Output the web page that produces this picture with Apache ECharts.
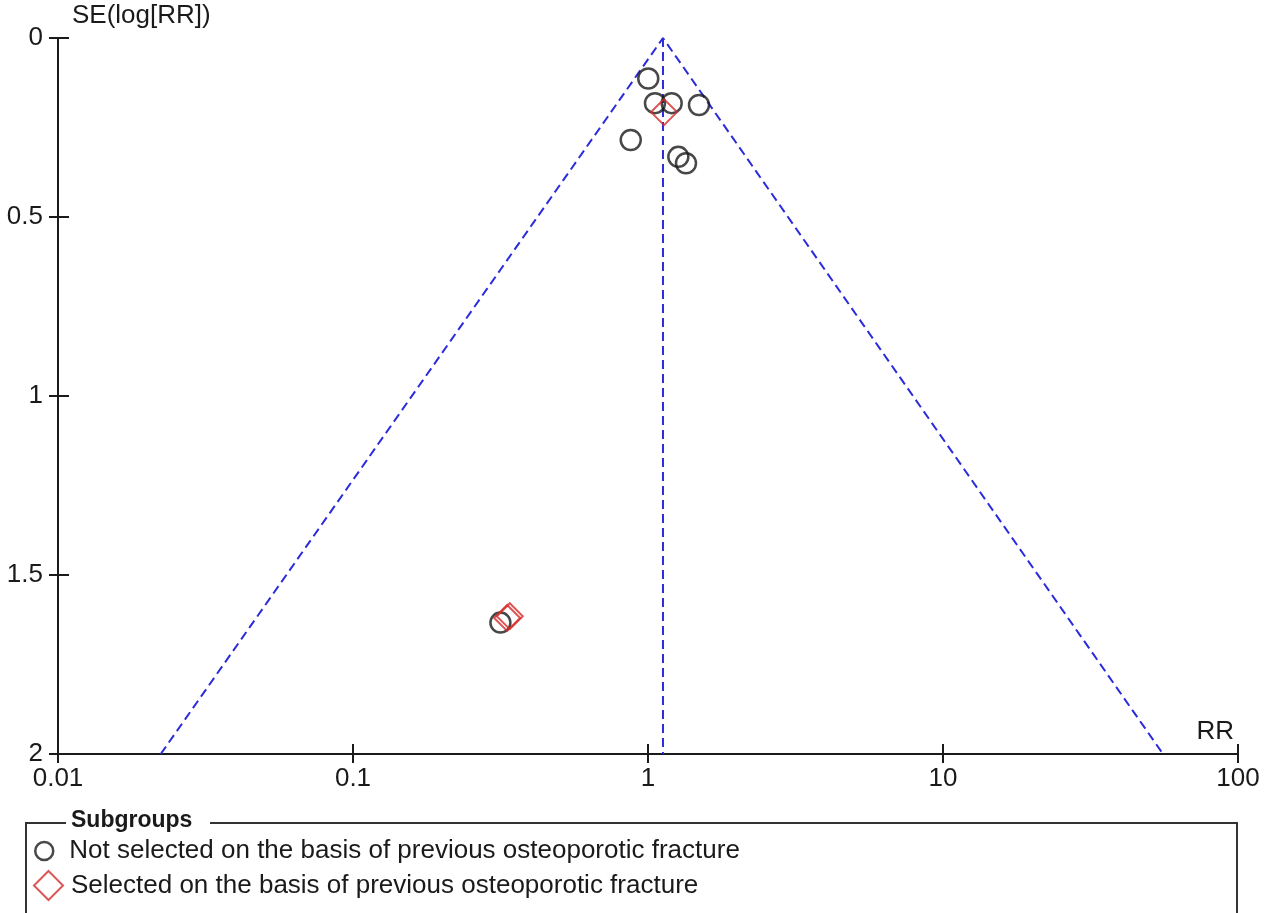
<!DOCTYPE html>
<html>
<head>
<meta charset="utf-8">
<title>Funnel plot</title>
<script src="https://cdn.jsdelivr.net/npm/echarts@6/dist/echarts.min.js"></script>
<style>
  html, body { margin: 0; padding: 0; background: #ffffff; }
  #chart { width: 1272px; height: 913px; }
</style>
</head>
<body>
<div id="chart"></div>
<script>
// Study estimates: [RR, SE(log RR)]
const notSelected = [
  [1.002, 0.113],
  [1.056, 0.182],
  [1.203, 0.182],
  [1.489, 0.187],
  [0.874, 0.285],
  [1.267, 0.332],
  [1.345, 0.350],
  [0.316, 1.633]
];
const selected = [
  [1.133, 0.207],
  [0.333, 1.620],
  [0.340, 1.615]
];

// Pooled estimate and 95% pseudo-confidence limits at SE = 2
const pooledRR = 1.124;
const lowerLimitAtMaxSE = 0.0223;
const upperLimitAtMaxSE = 55.7;
const maxSE = 2;

const xTickLabels = ['0.01', '0.1', '1', '10', '100'];
const yTickLabels = ['0', '0.5', '1', '1.5', '2'];

const seriesNames = [
  'Not selected on the basis of previous osteoporotic fracture',
  'Selected on the basis of previous osteoporotic fracture'
];

const FONT = '"Liberation Sans", Arial, sans-serif';
const FS = 26;
const INK = '#1a1a1a';
const FUNNEL = '#2b2bdc';
const RED = '#d42a2a';

const chart = echarts.init(document.getElementById('chart'), null, { renderer: 'canvas' });

const xLabel = v => xTickLabels[Math.round(Math.log10(v)) + 2] ?? '';
const yLabel = v => yTickLabels[Math.round(v / 0.5)] ?? '';

const funnelStyle = { color: FUNNEL, width: 2, type: [9, 5] };

// Each axis is drawn twice (outer and inner tick halves) so the ticks cross the axis line.
const xBase = { type: 'log', logBase: 10, min: 0.01, max: 100, position: 'bottom', splitLine: { show: false } };
const yBase = { type: 'value', inverse: true, min: 0, max: maxSE, interval: 0.5, position: 'left', splitLine: { show: false } };

chart.setOption({
  animation: false,
  backgroundColor: '#ffffff',
  grid: { left: 58, right: 34, top: 38, bottom: 159, containLabel: false },
  xAxis: [
    Object.assign({}, xBase, {
      axisLine: { show: true, onZero: false, lineStyle: { color: INK, width: 2 } },
      axisTick: { show: true, inside: false, length: 9, lineStyle: { color: INK, width: 2 } },
      axisLabel: { show: true, margin: 12, color: INK, fontFamily: FONT, fontSize: FS, formatter: xLabel },
      minorTick: { show: false }
    }),
    Object.assign({}, xBase, {
      axisLine: { show: true, onZero: false, lineStyle: { color: INK, width: 2 } },
      axisTick: { show: true, inside: true, length: 10, lineStyle: { color: INK, width: 2 } },
      axisLabel: { show: false }
    })
  ],
  yAxis: [
    Object.assign({}, yBase, {
      axisLine: { show: true, onZero: false, lineStyle: { color: INK, width: 2 } },
      axisTick: { show: true, inside: false, length: 9, lineStyle: { color: INK, width: 2 } },
      axisLabel: { show: true, margin: 15, color: INK, fontFamily: FONT, fontSize: FS, formatter: yLabel }
    }),
    Object.assign({}, yBase, {
      axisLine: { show: true, onZero: false, lineStyle: { color: INK, width: 2 } },
      axisTick: { show: true, inside: true, length: 11, lineStyle: { color: INK, width: 2 } },
      axisLabel: { show: false }
    })
  ],
  legend: [
    {
      data: [{ name: seriesNames[0], icon: 'circle', itemStyle: { color: '#ffffff', borderColor: INK, borderWidth: 2.5 } }],
      orient: 'vertical', left: 34, top: 838, padding: 0,
      itemWidth: 18, itemHeight: 18,
      selectedMode: false,
      textStyle: { color: INK, fontFamily: FONT, fontSize: FS, padding: [0, 0, 0, 11] }
    },
    {
      data: [{ name: seriesNames[1], icon: 'diamond', itemStyle: { color: '#ffffff', borderColor: RED, borderWidth: 2 } }],
      orient: 'vertical', left: 33, top: 870, padding: 0,
      itemWidth: 29, itemHeight: 29,
      selectedMode: false,
      textStyle: { color: INK, fontFamily: FONT, fontSize: FS, padding: [0, 0, 0, 3] }
    }
  ],
  graphic: [
    // axis titles
    { type: 'text', left: 72, top: 3, style: { text: 'SE(log[RR])', font: FS + 'px ' + FONT, fill: INK } },
    { type: 'text', right: 1272 - 1234, top: 719, style: { text: 'RR', font: FS + 'px ' + FONT, fill: INK } },
    // legend frame with title gap
    { type: 'polyline', shape: { points: [[66, 823], [26, 823], [26, 920]] }, style: { stroke: '#333333', lineWidth: 2, fill: 'none' } },
    { type: 'polyline', shape: { points: [[210, 823], [1237, 823], [1237, 920]] }, style: { stroke: '#333333', lineWidth: 2, fill: 'none' } },
    { type: 'text', left: 71, top: 809, style: { text: 'Subgroups', font: 'bold 23px ' + FONT, fill: INK } }
  ],
  series: [
    {
      name: 'funnel',
      type: 'line',
      xAxisIndex: 1, yAxisIndex: 1,
      data: [[lowerLimitAtMaxSE, maxSE], [pooledRR, 0], [upperLimitAtMaxSE, maxSE]],
      symbol: 'none', silent: true, z: 1,
      lineStyle: funnelStyle
    },
    {
      name: 'pooled',
      type: 'line',
      xAxisIndex: 1, yAxisIndex: 1,
      data: [[pooledRR, 0], [pooledRR, maxSE]],
      symbol: 'none', silent: true, z: 1,
      lineStyle: funnelStyle
    },
    {
      name: seriesNames[0],
      type: 'scatter',
      xAxisIndex: 0, yAxisIndex: 0,
      data: notSelected,
      symbol: 'circle', symbolSize: 20, z: 3,
      itemStyle: { color: 'rgba(255,255,255,0)', borderColor: INK, borderWidth: 2.5 }
    },
    {
      name: seriesNames[1],
      type: 'scatter',
      xAxisIndex: 0, yAxisIndex: 0,
      data: selected,
      symbol: 'diamond', symbolSize: 26, z: 4,
      itemStyle: { color: 'rgba(255,255,255,0)', borderColor: RED, borderWidth: 2 }
    }
  ]
});
</script>
</body>
</html>
